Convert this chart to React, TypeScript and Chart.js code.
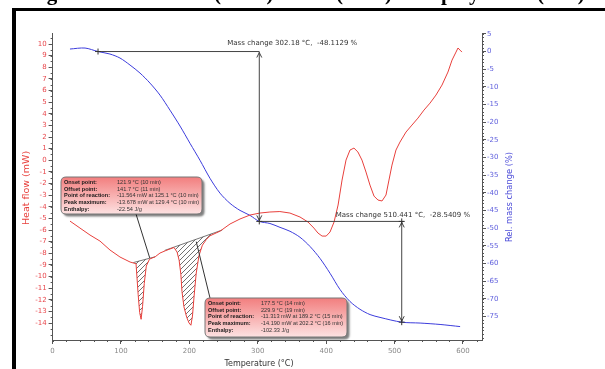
import React, { useEffect, useRef } from "react";
import { Chart, registerables } from "chart.js";

Chart.register(...registerables);

// ---------- data ----------
const redT = [25.4, 40, 54.7, 69.3, 83.9, 98.5, 113.2, 122, 125.1, 127.3, 129.4, 131.5, 134, 137, 141.7, 150, 157, 165, 171.6, 177.5, 182, 185, 187.5, 189.2, 192, 196, 199.5, 202.2, 204.5, 207, 210, 214, 219, 225, 230, 245, 259.4, 274, 288.6, 303, 317.7, 332.3, 347, 361.7, 373.4, 382, 388, 394, 400, 405.6, 411.5, 417.4, 423.2, 429, 434.8, 440.6, 446.4, 452.3, 458.2, 464, 469.9, 475.7, 481.6, 487.4, 491.8, 496.2, 502, 507.9, 516.7, 525.4, 534.2, 543, 551.8, 560.5, 569.3, 578, 584, 589.8, 592.7, 595.6, 598.5];
const redHF = [-5.23, -5.83, -6.43, -6.95, -7.72, -8.32, -8.75, -8.9, -11.56, -13.1, -13.68, -12.6, -10.6, -9.1, -8.5, -8.3, -7.98, -7.78, -7.63, -7.5, -7.9, -8.6, -9.8, -11.31, -12.6, -13.5, -14.0, -14.19, -13.4, -11.6, -9.7, -8.2, -7.3, -6.8, -6.5, -6.09, -5.48, -5.05, -4.71, -4.54, -4.45, -4.41, -4.54, -4.88, -5.31, -5.83, -6.26, -6.52, -6.52, -6.17, -5.31, -3.85, -1.7, 0.02, 0.88, 1.05, 0.71, 0.02, -1.01, -2.13, -3.08, -3.42, -3.5, -2.99, -1.7, -0.41, 0.88, 1.57, 2.43, 3.03, 3.63, 4.32, 4.92, 5.61, 6.47, 7.59, 8.62, 9.31, 9.66, 9.48, 9.31];

const blueT = [25.4, 47.4, 66.4, 83.9, 98.5, 113.2, 127.8, 142.4, 157, 171.6, 186.3, 200.9, 215.5, 230.1, 244.7, 259.4, 274, 288.6, 302.18, 317.8, 332.5, 347, 361.7, 376.3, 391, 405.6, 420.2, 434.8, 449.4, 464.1, 478.7, 510.44, 537.3, 566.5, 595.8];
const blueMass = [0.71, 0.99, 0.0, -0.71, -1.84, -3.83, -6.1, -8.94, -12.34, -16.6, -21.1, -26, -30.8, -35.9, -40.1, -43, -45, -46.4, -48.11, -48.7, -49.8, -50.9, -52.6, -55.2, -58.6, -62.8, -67.4, -70.8, -73, -74.5, -75.3, -76.65, -76.9, -77.3, -77.9];

const xTickValues = [0, 100, 200, 300, 400, 500, 600];
const leftTickValues = [-14, -13, -12, -11, -10, -9, -8, -7, -6, -5, -4, -3, -2, -1, 0, 1, 2, 3, 4, 5, 6, 7, 8, 9, 10];
const rightTickValues = [-75, -70, -65, -60, -55, -50, -45, -40, -35, -30, -25, -20, -15, -10, -5, 0, 5];

// integration baselines of the two endothermic peaks
const peakStartT = [118, 164];
const peakStartHF = [-8.8, -7.75];
const peakEndT = [150, 248];
const peakEndHF = [-8.3, -6.0];

// mass-change annotations
const massRefT = 66.4;
const massRefValue = 0;
const massStepT = [302.18, 510.441];
const massStepLevel = [-48.1129, -76.6538];
const massStepText = ["Mass change 302.18 \u00B0C,  -48.1129 %", "Mass change 510.441 \u00B0C,  -28.5409 %"];

// peak evaluation boxes
const boxLabels = ["Onset point:", "Offset point:", "Point of reaction:", "Peak maximum:", "Enthalpy:"];
const box1Values = ["121.9 \u00B0C (10 min)", "141.7 \u00B0C (11 min)", "-11.564 mW at 125.1 \u00B0C (10 min)", "-13.678 mW at 129.4 \u00B0C (10 min)", "-22.54 J/g"];
const box2Values = ["177.5 \u00B0C (14 min)", "229.9 \u00B0C (19 min)", "-11.313 mW at 189.2 \u00B0C (15 min)", "-14.190 mW at 202.2 \u00B0C (16 min)", "-102.33 J/g"];
const boxPointerT = [142, 210];
const boxPointerHF = [-8.4, -7.0];

const FONT = "'DejaVu Sans', sans-serif";
const RED = "#e8403c";
const BLUE = "#3c3cdc";

function interp(xs: number[], ys: number[], t: number) {
  for (let i = 0; i < xs.length - 1; i++) {
    if (t >= xs[i] && t <= xs[i + 1]) {
      const f = (t - xs[i]) / (xs[i + 1] - xs[i]);
      return ys[i] + f * (ys[i + 1] - ys[i]);
    }
  }
  return ys[ys.length - 1];
}

function roundRectPath(ctx: CanvasRenderingContext2D, x: number, y: number, w: number, h: number, r: number) {
  ctx.beginPath();
  ctx.moveTo(x + r, y);
  ctx.lineTo(x + w - r, y);
  ctx.quadraticCurveTo(x + w, y, x + w, y + r);
  ctx.lineTo(x + w, y + h - r);
  ctx.quadraticCurveTo(x + w, y + h, x + w - r, y + h);
  ctx.lineTo(x + r, y + h);
  ctx.quadraticCurveTo(x, y + h, x, y + h - r);
  ctx.lineTo(x, y + r);
  ctx.quadraticCurveTo(x, y, x + r, y);
  ctx.closePath();
}

function arrowHead(ctx: CanvasRenderingContext2D, x: number, y: number, dir: number) {
  ctx.beginPath();
  ctx.moveTo(x - 2.5, y - dir * 5);
  ctx.lineTo(x, y);
  ctx.lineTo(x + 2.5, y - dir * 5);
  ctx.stroke();
}

function cross(ctx: CanvasRenderingContext2D, x: number, y: number) {
  ctx.beginPath();
  ctx.moveTo(x - 3, y);
  ctx.lineTo(x + 3, y);
  ctx.moveTo(x, y - 3);
  ctx.lineTo(x, y + 3);
  ctx.stroke();
}

function drawBox(ctx: CanvasRenderingContext2D, bx: number, by: number, bw: number, bh: number, values: string[], px: number, py: number, sx: number, sy: number) {
  ctx.save();
  ctx.strokeStyle = "#333";
  ctx.lineWidth = 1;
  ctx.beginPath();
  ctx.moveTo(sx, sy);
  ctx.lineTo(px, py);
  ctx.stroke();
  ctx.shadowColor = "rgba(0,0,0,0.5)";
  ctx.shadowOffsetX = 2.5;
  ctx.shadowOffsetY = 2.5;
  ctx.shadowBlur = 2;
  const g = ctx.createLinearGradient(0, by, 0, by + bh);
  g.addColorStop(0, "#f27e7e");
  g.addColorStop(1, "#fde2e2");
  roundRectPath(ctx, bx, by, bw, bh, 5);
  ctx.fillStyle = g;
  ctx.fill();
  ctx.shadowColor = "transparent";
  ctx.strokeStyle = "#777";
  ctx.stroke();
  ctx.textBaseline = "middle";
  ctx.textAlign = "left";
  for (let i = 0; i < boxLabels.length; i++) {
    const ty = by + 5.5 + i * 6.7;
    ctx.font = "bold 5.6px 'Liberation Sans', sans-serif";
    ctx.fillStyle = "#1a1a1a";
    ctx.fillText(boxLabels[i], bx + 3, ty);
    ctx.font = "5.6px 'Liberation Sans', sans-serif";
    ctx.fillStyle = "#333";
    ctx.fillText(values[i], bx + 56, ty);
  }
  ctx.restore();
}

const hatchPlugin = {
  id: "hatch",
  beforeDatasetsDraw(chart: any) {
    const ctx: CanvasRenderingContext2D = chart.ctx;
    const xs = chart.scales.x;
    const ys = chart.scales.y;
    const pc = document.createElement("canvas");
    pc.width = 5;
    pc.height = 5;
    const p = pc.getContext("2d")!;
    p.strokeStyle = "#333";
    p.lineWidth = 0.7;
    p.beginPath();
    p.moveTo(0, 5);
    p.lineTo(5, 0);
    p.moveTo(-1, 1);
    p.lineTo(1, -1);
    p.moveTo(4, 6);
    p.lineTo(6, 4);
    p.stroke();
    const pat = ctx.createPattern(pc, "repeat")!;
    ctx.save();
    for (let k = 0; k < peakStartT.length; k++) {
      const t0 = peakStartT[k];
      const t1 = peakEndT[k];
      ctx.beginPath();
      ctx.moveTo(xs.getPixelForValue(t0), ys.getPixelForValue(peakStartHF[k]));
      ctx.lineTo(xs.getPixelForValue(t0), ys.getPixelForValue(interp(redT, redHF, t0)));
      for (let i = 0; i < redT.length; i++) {
        if (redT[i] > t0 && redT[i] < t1) ctx.lineTo(xs.getPixelForValue(redT[i]), ys.getPixelForValue(redHF[i]));
      }
      ctx.lineTo(xs.getPixelForValue(t1), ys.getPixelForValue(interp(redT, redHF, t1)));
      ctx.lineTo(xs.getPixelForValue(t1), ys.getPixelForValue(peakEndHF[k]));
      ctx.closePath();
      ctx.fillStyle = pat;
      ctx.fill();
      ctx.strokeStyle = "#555";
      ctx.lineWidth = 0.8;
      ctx.beginPath();
      ctx.moveTo(xs.getPixelForValue(t0), ys.getPixelForValue(peakStartHF[k]));
      ctx.lineTo(xs.getPixelForValue(t1), ys.getPixelForValue(peakEndHF[k]));
      ctx.stroke();
    }
    ctx.restore();
  },
};

const decorPlugin = {
  id: "decor",
  afterDraw(chart: any) {
    const ctx: CanvasRenderingContext2D = chart.ctx;
    const xs = chart.scales.x;
    const ys = chart.scales.y;
    const y2 = chart.scales.y2;
    ctx.save();
    // minor ticks
    ctx.strokeStyle = "#555";
    ctx.lineWidth = 1;
    ctx.beginPath();
    for (let v = 0; v <= xs.max; v += 20) {
      const px = Math.round(xs.getPixelForValue(v)) + 0.5;
      ctx.moveTo(px, xs.top);
      ctx.lineTo(px, xs.top + 2);
    }
    for (let v = -15; v <= ys.max; v += 0.5) {
      if (v < ys.min) continue;
      const py = Math.round(ys.getPixelForValue(v)) + 0.5;
      ctx.moveTo(ys.right, py);
      ctx.lineTo(ys.right - 2, py);
    }
    for (let v = -81; v <= y2.max; v += 1) {
      if (v < y2.min) continue;
      const py = Math.round(y2.getPixelForValue(v)) + 0.5;
      ctx.moveTo(y2.left, py);
      ctx.lineTo(y2.left + 2, py);
    }
    ctx.stroke();

    // axis titles
    ctx.textAlign = "center";
    ctx.textBaseline = "middle";
    ctx.fillStyle = RED;
    ctx.font = `9.5px ${FONT}`;
    ctx.save();
    ctx.translate(27, 188);
    ctx.rotate(-Math.PI / 2);
    ctx.fillText("Heat flow (mW)", 0, 0);
    ctx.restore();
    ctx.fillStyle = "#4a4ad8";
    ctx.font = `8.3px ${FONT}`;
    ctx.save();
    ctx.translate(510, 197);
    ctx.rotate(-Math.PI / 2);
    ctx.fillText("Rel. mass change (%)", 0, 0);
    ctx.restore();
    ctx.fillStyle = "#333";
    ctx.font = `8px ${FONT}`;
    ctx.fillText("Temperature (\u00B0C)", 259, 364);

    // mass change annotations
    ctx.strokeStyle = "#444";
    ctx.lineWidth = 1;
    const xRef = xs.getPixelForValue(massRefT);
    const yRef = y2.getPixelForValue(massRefValue);
    const xa = xs.getPixelForValue(massStepT[0]);
    const xb = xs.getPixelForValue(massStepT[1]);
    const ya = y2.getPixelForValue(massStepLevel[0]);
    const yb = y2.getPixelForValue(massStepLevel[1]);
    ctx.beginPath();
    ctx.moveTo(xRef, yRef);
    ctx.lineTo(xa, yRef);
    ctx.moveTo(xa, yRef);
    ctx.lineTo(xa, ya);
    ctx.moveTo(xa, ya);
    ctx.lineTo(xb + 2, ya);
    ctx.moveTo(xb, ya);
    ctx.lineTo(xb, yb);
    ctx.stroke();
    arrowHead(ctx, xa, yRef + 1, -1);
    arrowHead(ctx, xa, ya - 1, 1);
    arrowHead(ctx, xb, ya + 1, -1);
    arrowHead(ctx, xb, yb - 1, 1);
    ctx.strokeStyle = "#333";
    cross(ctx, xRef, yRef);
    cross(ctx, xa, ya);
    cross(ctx, xb, ya);
    cross(ctx, xb, yb);
    ctx.fillStyle = "#333";
    ctx.font = `7px ${FONT}`;
    ctx.textAlign = "left";
    ctx.fillText(massStepText[0], xa - 32, yRef - 8);
    ctx.fillText(massStepText[1], xb - 66, ya - 6);

    // peak boxes
    drawBox(ctx, 61, 177, 141, 37, box1Values, xs.getPixelForValue(boxPointerT[0]), ys.getPixelForValue(boxPointerHF[0]), 136, 214);
    drawBox(ctx, 205, 298, 142, 39, box2Values, xs.getPixelForValue(boxPointerT[1]), ys.getPixelForValue(boxPointerHF[1]), 210, 298);
    ctx.restore();
  },
};

export default function App() {
  const ref = useRef<HTMLCanvasElement>(null);
  useEffect(() => {
    const canvas = ref.current!;
    const chart = new Chart(canvas, {
      type: "line",
      data: {
        datasets: [
          {
            label: "Heat flow",
            data: redT.map((t, i) => ({ x: t, y: redHF[i] })),
            borderColor: RED,
            borderWidth: 1,
            pointRadius: 0,
            yAxisID: "y",
            tension: 0,
          },
          {
            label: "Rel. mass change",
            data: blueT.map((t, i) => ({ x: t, y: blueMass[i] })),
            borderColor: BLUE,
            borderWidth: 1,
            pointRadius: 0,
            yAxisID: "y2",
            tension: 0.3,
          },
        ],
      },
      options: {
        responsive: false,
        animation: false,
        devicePixelRatio: 1,
        layout: { padding: { left: 14, right: 91, top: 33, bottom: 0 } },
        plugins: { legend: { display: false }, tooltip: { enabled: false } },
        scales: {
          x: {
            type: "linear",
            min: 0,
            max: 627.8,
            afterBuildTicks: (s: any) => { s.ticks = xTickValues.map((v) => ({ value: v })); },
            afterFit: (s: any) => { s.height = 29; },
            ticks: { font: { size: 7, family: FONT }, color: "#888", padding: 3, maxRotation: 0, autoSkip: false },
            grid: { drawOnChartArea: false, tickLength: 4, color: "#555" },
            border: { color: "#555" },
          },
          y: {
            position: "left",
            min: -15.46,
            max: 10.95,
            afterBuildTicks: (s: any) => { s.ticks = leftTickValues.map((v) => ({ value: v })); },
            afterFit: (s: any) => { s.width = 38.6; },
            ticks: { font: { size: 7, family: FONT }, color: "#e8474c", padding: 2, autoSkip: false },
            grid: { drawOnChartArea: false, tickLength: 4, color: "#555" },
            border: { color: "#555" },
          },
          y2: {
            position: "right",
            min: -81.7,
            max: 5.25,
            afterBuildTicks: (s: any) => { s.ticks = rightTickValues.map((v) => ({ value: v })); },
            afterFit: (s: any) => { s.width = 32; },
            ticks: { font: { size: 7, family: FONT }, color: "#6060dd", padding: 1, autoSkip: false },
            grid: { drawOnChartArea: false, tickLength: 4, color: "#555" },
            border: { color: "#555" },
          },
        },
      },
      plugins: [hatchPlugin, decorPlugin],
    } as any);
    return () => chart.destroy();
  }, []);

  const cap: React.CSSProperties = {
    position: "absolute",
    top: -16.6,
    font: "bold 21px 'Liberation Serif', serif",
    lineHeight: "21px",
    whiteSpace: "nowrap",
    color: "#000",
  };
  return (
    <div style={{ position: "absolute", left: 0, top: 0, width: 605, height: 369, overflow: "hidden", background: "#fff" }}>
      <canvas ref={ref} width={605} height={369} style={{ position: "absolute", left: 0, top: 0, display: "block" }} />
      <div style={{ position: "absolute", left: 12, top: 8, width: 605, height: 369, borderLeft: "4px solid #000", borderTop: "3px solid #000", pointerEvents: "none" }} />
      <span style={{ ...cap, left: 28 }}>Figure 6:</span>
      <span style={{ ...cap, left: 120 }}>Thermal curves</span>
      <span style={{ ...cap, left: 214 }}>(TGA)</span>
      <span style={{ ...cap, left: 282 }}>and</span>
      <span style={{ ...cap, left: 336 }}>(DSC)</span>
      <span style={{ ...cap, left: 402 }}>of</span>
      <span style={{ ...cap, left: 441 }}>polymer</span>
      <span style={{ ...cap, left: 537 }}>(P12)</span>
    </div>
  );
}
